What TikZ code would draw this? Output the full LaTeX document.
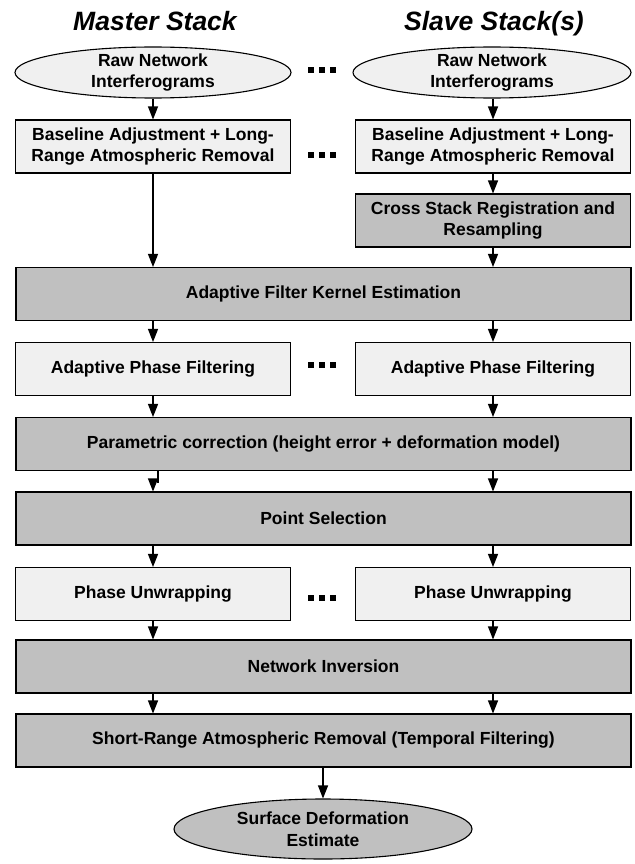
\documentclass[tikz,border=0pt]{standalone}
\usepackage{fontspec}
\setmainfont{Liberation Sans}
\usetikzlibrary{shapes.geometric,arrows.meta,calc}
\definecolor{lightfill}{HTML}{F0F0F0}
\definecolor{darkfill}{HTML}{C0C0C0}
\begin{document}
\begin{tikzpicture}[x=1pt,y=-1pt,
  boxtxt/.style={font=\fontsize{17.5}{21.5}\selectfont\bfseries},
  titletxt/.style={font=\fontsize{26.5}{30}\selectfont\bfseries\itshape},
  basebox/.style={draw, line width=1.1pt, inner sep=0pt, minimum height=53pt, align=center, boxtxt},
  lbox/.style={basebox, fill=lightfill},
  dbox/.style={basebox, fill=darkfill},
  colw/.style={minimum width=275pt},
  fullw/.style={minimum width=615pt},
  ellshape/.style={ellipse, draw, line width=1.1pt, inner sep=0pt},
  etxt/.style={boxtxt, align=center, inner sep=0pt},
  arr/.style={line width=1.2pt, -{Triangle[length=13pt,width=10pt]}},
  dotsq/.style={fill=black, draw=none, minimum size=6pt, inner sep=0pt}
]
\useasboundingbox (0,0) rectangle (634,864);
\fill[white] (0,0) rectangle (634,864);

\coordinate (L) at (153,0);
\coordinate (Lk) at (158,0);
\coordinate (R) at (493,0);
\coordinate (C) at (323,0);

% titles
\node[titletxt, anchor=base] (tm) at (155,31) {Master Stack};
\node[titletxt, anchor=base] (ts) at (494,31) {Slave Stack(s)};

% top ellipses
\node[ellshape, fill=lightfill, minimum width=276pt, minimum height=51pt] (e1) at (153,72.5) {};
\node[etxt] (e1t) at (e1) {Raw Network\\Interferograms};
\node[ellshape, fill=lightfill, minimum width=278pt, minimum height=51pt] (e2) at (492,72.5) {};
\node[etxt] (e2t) at (e2) {Raw Network\\Interferograms};

% boxes
\node[lbox, colw] (b1) at (153,146.5) {Baseline Adjustment + Long-\\Range Atmospheric Removal};
\node[lbox, colw] (b2) at (493,146.5) {Baseline Adjustment + Long-\\Range Atmospheric Removal};
\node[dbox, colw] (cs) at (493,220.5) {Cross Stack Registration and\\Resampling};
\node[dbox, fullw] (k) at (323.5,294) {Adaptive Filter Kernel Estimation};
\node[lbox, colw] (pf1) at (153,369) {Adaptive Phase Filtering};
\node[lbox, colw] (pf2) at (493,369) {Adaptive Phase Filtering};
\node[dbox, fullw] (pc) at (323.5,444) {Parametric correction (height error + deformation model)};
\node[dbox, fullw] (ps) at (323.5,518.5) {Point Selection};
\node[lbox, colw] (pu1) at (153,594) {Phase Unwrapping};
\node[lbox, colw] (pu2) at (493,594) {Phase Unwrapping};
\node[dbox, fullw] (ni) at (323.5,666.5) {Network Inversion};
\node[dbox, fullw] (sr) at (323.5,740.5) {Short-Range Atmospheric Removal (Temporal Filtering)};

% bottom ellipse
\node[ellshape, fill=darkfill, minimum width=298pt, minimum height=60pt] (se) at (323,829) {};
\node[etxt] (set) at (se) {Surface Deformation\\Estimate};

% dots
\foreach \y/\n in {70/a,155/b,365/c,598/d}{
  \node[dotsq] (d\n1) at (311,\y) {};
  \node[dotsq] (d\n2) at (322,\y) {};
  \node[dotsq] (d\n3) at (333,\y) {};
}

% arrows
\draw[arr] (e1.south) -- (b1.north);
\draw[arr] (e2.south -| R) -- (b2.north);
\draw[arr] (b2.south) -- (cs.north);
\draw[arr] (b1.south) -- (k.north -| L);
\draw[arr] (cs.south) -- (k.north -| R);
\draw[arr] (k.south -| L) -- (pf1.north);
\draw[arr] (k.south -| R) -- (pf2.north);
\draw[arr] (pf1.south) -- (pc.north -| L);
\draw[arr] (pf2.south) -- (pc.north -| R);
\draw[line width=1.2pt] (pc.south -| Lk) -- ++(0,12);
\draw[arr] ($(pc.south -| L)+(0,9)$) -- (ps.north -| L);
\draw[arr] (pc.south -| R) -- (ps.north -| R);
\draw[arr] (ps.south -| L) -- (pu1.north);
\draw[arr] (ps.south -| R) -- (pu2.north);
\draw[arr] (pu1.south) -- (ni.north -| L);
\draw[arr] (pu2.south) -- (ni.north -| R);
\draw[arr] (ni.south -| L) -- (sr.north -| L);
\draw[arr] (ni.south -| R) -- (sr.north -| R);
\draw[arr] (sr.south -| C) -- (se.north);
\end{tikzpicture}
\end{document}
